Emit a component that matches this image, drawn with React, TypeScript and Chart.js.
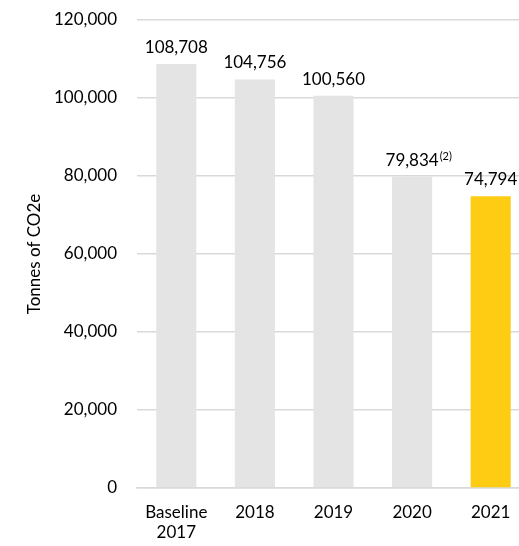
import React, { useEffect, useRef } from "react";
import { Chart, registerables } from "chart.js";

Chart.register(...registerables);

const categories: (string | string[])[] = [["Baseline", "2017"], "2018", "2019", "2020", "2021"];
const values = [108708, 104756, 100560, 79834, 74794];
const valueNotes = ["", "", "", "(2)", ""];
const barColors = ["#e4e4e4", "#e4e4e4", "#e4e4e4", "#e4e4e4", "#ffcc14"];
const yTitle = "Tonnes of CO2e";
const yMax = 120000;
const yStep = 20000;

const FONT = "Lato, 'Open Sans', sans-serif";
const FS = 17;

const labelPlugin = {
  id: "valueLabels",
  afterDatasetsDraw(chart: any) {
    const ctx = chart.ctx;
    const meta = chart.getDatasetMeta(0);
    ctx.save();
    ctx.fillStyle = "#000";
    ctx.textBaseline = "alphabetic";
    meta.data.forEach((bar: any, i: number) => {
      const text = values[i].toLocaleString("en-US");
      ctx.font = `${FS}px ${FONT}`;
      ctx.textAlign = "center";
      const y = bar.y - 11;
      ctx.fillText(text, bar.x, y);
      if (valueNotes[i]) {
        const w = ctx.measureText(text).width;
        ctx.font = `${Math.round(FS * 0.65)}px ${FONT}`;
        ctx.textAlign = "left";
        ctx.fillText(valueNotes[i], bar.x + w / 2 + 1, y - 6);
      }
    });
    ctx.restore();
  },
};

export default function App() {
  const ref = useRef<HTMLCanvasElement>(null);
  useEffect(() => {
    if (!ref.current) return;
    const chart = new Chart(ref.current, {
      type: "bar",
      data: {
        labels: categories as any,
        datasets: [
          {
            data: values,
            backgroundColor: barColors,
            barPercentage: 0.51,
            categoryPercentage: 1,
          },
        ],
      },
      options: {
        responsive: false,
        animation: false,
        layout: { padding: { top: 20, left: 0, right: 10, bottom: 0 } },
        plugins: { legend: { display: false }, tooltip: { enabled: false } },
        scales: {
          x: {
            grid: { display: false, drawTicks: false },
            border: { display: true, color: "#d9d9d9", width: 1.5 },
            ticks: {
              color: "#000",
              font: { family: FONT, size: FS },
              padding: 14,
              maxRotation: 0,
              autoSkip: false,
            },
            afterFit(scale: any) {
              scale.height = 58;
            },
          },
          y: {
            min: 0,
            max: yMax,
            ticks: {
              stepSize: yStep,
              color: "#000",
              font: { family: FONT, size: FS },
              padding: 20,
              callback: (v: any) => Number(v).toLocaleString("en-US"),
            },
            grid: { color: "#d9d9d9", lineWidth: 1.5, drawTicks: false },
            border: { display: false },
            title: {
              display: true,
              text: yTitle,
              color: "#000",
              font: { family: FONT, size: FS },
              padding: { top: 24, bottom: 0 },
            },
            afterFit(scale: any) {
              scale.width = 137;
              scale.paddingTop = 0;
              scale.paddingBottom = 0;
            },
          },
        },
      },
      plugins: [labelPlugin],
    });
    return () => chart.destroy();
  }, []);
  return (
    <div style={{ position: "absolute", left: 0, top: 0, width: 519, height: 546, overflow: "hidden" }}>
      <canvas ref={ref} width={540} height={546} style={{ display: "block" }} />
    </div>
  );
}
